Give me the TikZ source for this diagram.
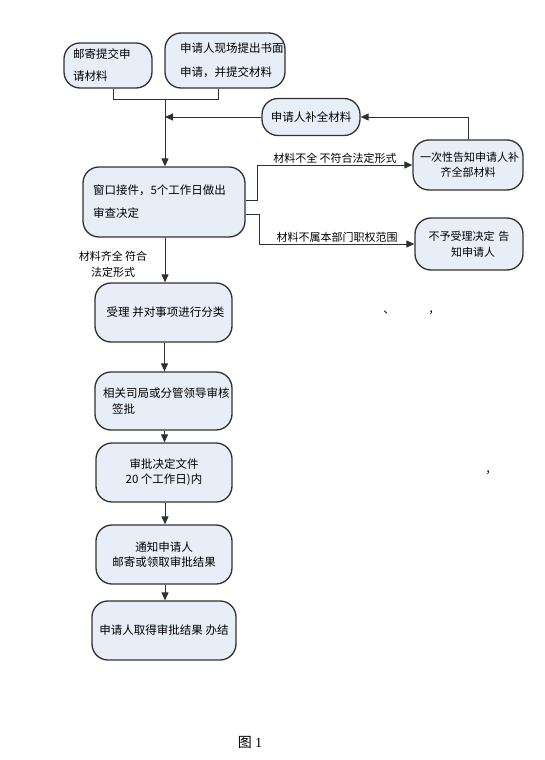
\documentclass[tikz,border=0pt]{standalone}
\usepackage{fontspec}
\setmainfont{Noto Sans CJK SC}
\newfontfamily\capfont{Liberation Serif}
\usetikzlibrary{arrows.meta}
\definecolor{boxfill}{HTML}{E8EEF7}
\definecolor{edgecol}{HTML}{303030}
\begin{document}
\begin{tikzpicture}[x=1pt,y=-1pt,
  box/.style={draw=edgecol, line width=1.3pt, fill=boxfill, rounded corners=16pt,
    inner sep=0pt, font=\fontsize{11.5}{14.5}\selectfont},
  conn/.style={draw=edgecol, line width=1pt},
  arr/.style={conn, -{Triangle[length=8pt,width=7pt]}},
  lab/.style={font=\fontsize{11}{15}\selectfont, inner sep=1pt},
  stray/.style={font=\fontsize{11.5}{14}\selectfont, inner sep=0pt}]
\useasboundingbox (0,0) rectangle (544,760);

% boxes
\node[box, minimum width=88pt, minimum height=45pt, text width=70pt, align=left,
  font=\fontsize{11.5}{22}\selectfont] (A) at (108,65.5) {邮寄提交申\\请材料};
\node[box, minimum width=120pt, minimum height=55pt, text width=90pt, align=left,
  font=\fontsize{11.5}{24}\selectfont] (B) at (225,60.5) {申请人现场提出书面\\申请，并提交材料};
\node[box, minimum width=98pt, minimum height=37pt] (R1) at (311,117) {申请人补全材料};
\node[box, minimum width=110pt, minimum height=50pt, text width=96pt, align=center,
  font=\fontsize{11}{15}\selectfont] (R2) at (468,165) {一次性告知申请人补\\齐全部材料};
\node[box, minimum width=108pt, minimum height=52pt, text width=96pt, align=center,
  font=\fontsize{11}{16}\selectfont] (R3) at (469,244) {不予受理决定 告\\\hspace*{8pt}知申请人};
\node[box, minimum width=162pt, minimum height=70pt, text width=142pt, align=left,
  font=\fontsize{11.5}{23}\selectfont] (C) at (164,202) {窗口接件，5个工作日做出\\审查决定};
\node[box, minimum width=137pt, minimum height=59pt] (D) at (163.5,312.5) {\hspace*{4pt}受理 并对事项进行分类};
\node[box, minimum width=137pt, minimum height=58pt, text width=121pt, align=left,
  font=\fontsize{11.5}{16}\selectfont] (E) at (163.5,401) {相关司局或分管领导审核\\\hspace*{9pt}签批};
\node[box, minimum width=136pt, minimum height=59pt, align=center] (F) at (164,472.5) {审批决定文件\\20 个工作日)内};
\node[box, minimum width=136pt, minimum height=59pt, align=center] (G) at (164,554.5) {通知申请人\\邮寄或领取审批结果};
\node[box, minimum width=144pt, minimum height=59pt] (H) at (164,630.5) {申请人取得审批结果 办结};

% junction of the two submission boxes
\coordinate (J) at (165,99);
\draw[conn] ([xshift=5pt]A.south) -- ([xshift=5pt]A.south |- J) -- ([xshift=-7pt]B.south |- J) -- ([xshift=-7pt]B.south);
\draw[arr] (J) -- (J |- C.north);

% resubmission loop
\draw[arr] (R1.west) -- (R1.west -| J);
\draw[arr] (R2.north) |- (R1.east);

% branches from C
\draw[arr] ([yshift=2pt]C.east) -- ++(12,0) |- node[lab, above, pos=0.75] (L1) {材料不全 不符合法定形式} (R2.west);
\draw[arr] ([yshift=-12pt]C.east) -- ++(14,0) |- node[lab, above, pos=0.75] (L2) {材料不属本部门职权范围} (R3.west);

% main chain
\draw[arr] ([xshift=1pt]C.south) -- ([xshift=1pt]C.south |- D.north);
\node[lab, align=center, font=\fontsize{11}{16}\selectfont] (L3) at (113,264) {材料齐全 符合\\法定形式};
\draw[arr] ([xshift=1pt]D.south) -- ([xshift=1pt]D.south |- E.north);
\draw[arr] ([xshift=1pt]E.south) -- ([xshift=1pt]E.south |- F.north);
\draw[arr] ([xshift=1pt]F.south) -- ([xshift=1pt]F.south |- G.north);
\draw[arr] ([xshift=1pt]G.south) -- ([xshift=1pt]G.south |- H.north);

% stray punctuation
\node[stray] (p1) at (389,313) {、};
\node[stray] (p2) at (434,313) {，};
\node[stray] (p3) at (491,473) {，};

% caption
\node[font=\fontsize{14}{16}\selectfont] (cap) at (250,742) {图 {\capfont 1}};
\end{tikzpicture}
\end{document}
